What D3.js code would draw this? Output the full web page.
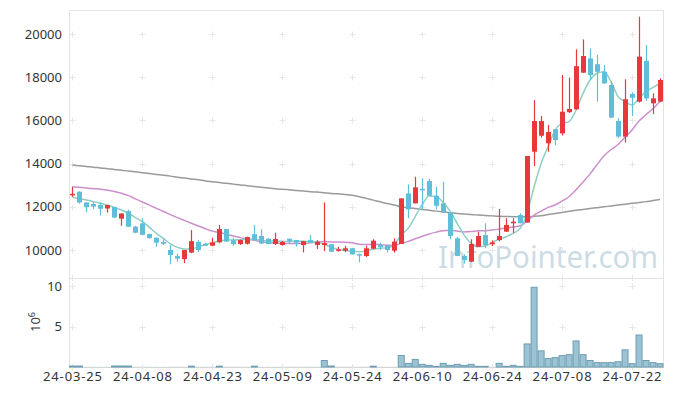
<!DOCTYPE html>
<html>
<head>
<meta charset="utf-8">
<script src="https://cdn.jsdelivr.net/npm/d3@7"></script>
<style>
  html, body { margin: 0; padding: 0; background: #fff; }
  svg { display: block; font-family: "Noto Sans", "Open Sans", sans-serif; }
</style>
</head>
<body>
<svg id="chart" width="673" height="396"></svg>
<script>
// ---------- DATA ----------
const dates = [
  "24-03-25","24-03-26","24-03-27","24-03-28","24-03-29",
  "24-04-01","24-04-02","24-04-03","24-04-04","24-04-05",
  "24-04-08","24-04-09","24-04-11","24-04-12","24-04-15",
  "24-04-16","24-04-17","24-04-18","24-04-19","24-04-22",
  "24-04-23","24-04-24","24-04-25","24-04-26","24-04-29",
  "24-04-30","24-05-02","24-05-03","24-05-07","24-05-08",
  "24-05-09","24-05-10","24-05-13","24-05-14","24-05-16",
  "24-05-17","24-05-20","24-05-21","24-05-22","24-05-23",
  "24-05-24","24-05-27","24-05-28","24-05-29","24-05-30",
  "24-05-31","24-06-03","24-06-04","24-06-05","24-06-07",
  "24-06-10","24-06-11","24-06-12","24-06-13","24-06-14",
  "24-06-17","24-06-18","24-06-19","24-06-20","24-06-21",
  "24-06-24","24-06-25","24-06-26","24-06-27","24-06-28",
  "24-07-01","24-07-02","24-07-03","24-07-04","24-07-05",
  "24-07-08","24-07-09","24-07-10","24-07-11","24-07-12",
  "24-07-15","24-07-16","24-07-17","24-07-18","24-07-19",
  "24-07-22","24-07-23","24-07-24","24-07-25","24-07-26"
];
const open = [
  12560,12700,12200,12130,12080, 11920,11990,11450,11800,11080,
  11230,10740,10570,10370,10000, 9720,9580,9880,10370,10290,
  10200,10360,10970,10450,10280, 10290,10730,10650,10520,10280,
  10230,10520,10460,10230,10460, 10230,10230,10270,9970,9970,
  10080,9810,9720,10060,10230, 10190,9970,10280,12620,12160,
  12830,13190,12510,12160,11730, 10540,9720,9460,10150,10690,
  10270,10460,10850,11240,11620, 11270,14550,15290,14940,15590,
  15400,16380,16510,18210,18870, 18600,18250,17640,15970,15250,
  17220,16870,18760,16790,16870
];
const high = [
  12930,12720,12210,12230,12200, 12100,12000,11700,11870,11120,
  11470,10760,10580,10500,10230, 9830,10000,10920,10460,10320,
  10570,11160,10970,10570,10480, 10620,11150,10960,10550,10800,
  10420,10530,10470,10420,10690, 10460,12200,10280,10150,10190,
  10100,9830,10200,10500,10340, 10250,10540,12390,13040,13390,
  13320,13300,12930,13160,11730, 10600,9800,10500,10850,11240,
  10450,11900,11470,11470,11700, 14350,16940,16200,15790,15600,
  18100,17980,19290,19750,19330, 19030,18560,17820,16100,17900,
  17300,20800,19490,17250,17950
];
const low = [
  12460,12150,11750,11900,11600, 11730,11490,11120,11060,10780,
  10680,10530,10150,10230,9340, 9460,9390,9850,9900,10180,
  10180,10310,10380,10200,10230, 10250,10440,10280,10260,10230,
  10200,10300,10150,9890,10330, 10050,9950,9900,9920,9900,
  9780,9430,9680,10040,10000, 9880,9880,10280,11470,12160,
  11850,12510,11880,11730,10500, 9720,9380,9440,10150,10080,
  10180,10400,10840,10800,11230, 11270,13890,15200,14550,14860,
  15300,16350,16500,18200,17870, 16870,17700,16100,15200,14970,
  16200,16830,16900,16300,16850
];
const close = [
  12600,12200,11980,12010,11910, 12080,11500,11690,11080,10800,
  10700,10550,10340,10290,9770, 9600,10000,10410,10000,10200,
  10350,10970,10390,10270,10460, 10600,10460,10300,10280,10510,
  10370,10420,10340,10410,10340, 10380,10320,9920,10030,10080,
  9800,9740,10080,10430,10130, 10000,10390,12390,11880,12900,
  12780,12510,12050,11730,10650, 9720,9540,10280,10650,10230,
  10350,10650,11160,11310,11240, 14350,15970,15970,15460,15090,
  16400,16530,18510,18980,18100, 18250,17710,16130,15250,16980,
  17050,18950,17020,17020,17870
];
// volume in millions of shares
const volume = [
  0.12,0.12,0.02,0.02,0.02, 0.02,0.12,0.12,0.12,0.02,
  0.02,0.02,0.02,0.02,0.02, 0.02,0.02,0.1,0.02,0.02,
  0.02,0.1,0.02,0.02,0.02, 0.02,0.1,0.02,0.02,0.02,
  0.02,0.02,0.02,0.02,0.02, 0.02,0.8,0.12,0.02,0.02,
  0.02,0.02,0.02,0.1,0.02, 0.02,0.02,1.43,0.45,0.94,
  0.33,0.2,0.08,0.45,0.2, 0.33,0.2,0.33,0.08,0.08,
  0.02,0.45,0.08,0.2,0.08, 2.85,9.85,2.0,1.04,1.16,
  1.4,1.52,3.22,1.52,0.8, 0.54,0.54,0.54,0.65,2.12,
  0.41,3.95,0.8,0.54,0.41
];
const ma5 = [
  12440,12380,12310,12240,12160, 12070,11975,11850,11700,11500,
  11310,11050,10770,10540,10280, 10120,10050,10050,10150,10245,
  10340,10415,10460,10460,10480, 10495,10500,10440,10420,10410,
  10400,10390,10410,10400,10380, 10370,10250,10130,10030,9980,
  9940,9920,9960,10040,10080, 10100,10250,10700,11000,11550,
  12100,12500,12480,12200,11800, 11235,10690,10310,10150,10185,
  10355,10495,10615,10770,11000, 11700,12930,14010,14780,15550,
  15860,15940,16480,17250,17870, 18180,18250,17790,17100,16870,
  16710,17020,17330,17530,17710
];
const ma20 = [
  12930,12900,12870,12840,12810, 12770,12710,12630,12520,12370,
  12220,12080,11930,11780,11640, 11500,11370,11240,11110,10986,
  10873,10812,10732,10645,10573, 10499,10447,10377,10337,10323,
  10306,10300,10300,10306,10334, 10373,10389,10365,10366,10360,
  10333,10271,10256,10264,10247, 10217,10214,10318,10398,10518,
  10638,10743,10828,10894,10910, 10877,10838,10856,10887,10894,
  10922,10967,11021,11065,11121, 11338,11617,11796,11975,12085,
  12266,12467,12790,13152,13525, 13951,14360,14652,14882,15220,
  15555,15970,16263,16548,16880
];
const ma120 = [
  13930,13900,13870,13830,13800, 13760,13730,13690,13660,13620,
  13580,13540,13500,13460,13420, 13370,13330,13290,13250,13200,
  13160,13120,13090,13050,13010, 12980,12940,12900,12870,12840,
  12810,12790,12760,12730,12700, 12680,12650,12620,12600,12570,
  12540,12470,12390,12310,12230, 12150,12080,12000,11960,11920,
  11880,11840,11800,11760,11720, 11690,11670,11640,11620,11600,
  11580,11560,11550,11540,11540, 11540,11560,11590,11640,11690,
  11740,11790,11840,11880,11920, 11960,12000,12040,12080,12120,
  12160,12200,12240,12290,12340
];
const priceTicks = [10000, 12000, 14000, 16000, 18000, 20000];
const volTicks = [5, 10];
const dateTicks = ["24-03-25","24-04-08","24-04-23","24-05-09","24-05-24","24-06-10","24-06-24","24-07-08","24-07-22"];
const watermark = "InfoPointer.com";

// ---------- LAYOUT ----------
const L = 69, R = 663.5, PT = 10, PB = 278, VB = 367;
const svg = d3.select("#chart");

const x = d3.scaleBand().domain(dates).range([L, R]).padding(0);
const bw = x.bandwidth();
const cx = d => x(d) + bw / 2;
const y = d3.scaleLinear().domain([8704, 21111]).range([PB, PT]);
const yv = d3.scaleLinear().domain([0, 11]).range([VB, PB]);

const frame = "#e3e3e3";
const gridC = "#e6e6e6";
const textC = "#333";

// watermark (behind)
svg.append("text")
  .attr("x", 438).attr("y", 268)
  .attr("font-size", 30)
  .attr("textLength", 220).attr("lengthAdjust", "spacingAndGlyphs")
  .attr("fill", "#c3d6e1").attr("fill-opacity", 0.85)
  .text(watermark);

// frame lines
const fr = svg.append("g").attr("stroke", frame).attr("stroke-width", 1).attr("shape-rendering", "crispEdges");
fr.append("line").attr("x1", L).attr("x2", R).attr("y1", PT).attr("y2", PT);
fr.append("line").attr("x1", L).attr("x2", L).attr("y1", PT).attr("y2", VB);
fr.append("line").attr("x1", R).attr("x2", R).attr("y1", PT).attr("y2", VB);
fr.append("line").attr("x1", L).attr("x2", R).attr("y1", PB).attr("y2", PB);
fr.append("line").attr("x1", L).attr("x2", R).attr("y1", VB).attr("y2", VB).attr("stroke", "#d6d6d6");

// grid crosses
const gx = dateTicks.map(d => Math.round(cx(d)) + 0.5);
const cross = svg.append("g").attr("stroke", gridC).attr("stroke-width", 1);
function plus(px, py) {
  cross.append("line").attr("x1", px - 3).attr("x2", px + 3).attr("y1", py).attr("y2", py);
  cross.append("line").attr("x1", px).attr("x2", px).attr("y1", py - 3).attr("y2", py + 3);
}
gx.forEach(px => {
  priceTicks.forEach(v => plus(px, Math.round(y(v)) + 0.5));
  volTicks.forEach(v => plus(px, Math.round(yv(v)) + 0.5));
  cross.append("line").attr("x1", px).attr("x2", px).attr("y1", PB - 3).attr("y2", PB + 3);
  cross.append("line").attr("x1", px).attr("x2", px).attr("y1", VB - 3).attr("y2", VB + 3);
});
priceTicks.forEach(v => {
  cross.append("line").attr("x1", L).attr("x2", L + 4).attr("y1", Math.round(y(v)) + 0.5).attr("y2", Math.round(y(v)) + 0.5);
});

// price axis labels
const yAxis = d3.axisLeft(y).tickValues(priceTicks).tickSize(0).tickPadding(7).tickFormat(d3.format("d"));
const ya = svg.append("g").attr("transform", `translate(${L},0)`).call(yAxis);
ya.select(".domain").remove();
ya.selectAll("text").attr("font-size", 13).attr("fill", textC).attr("font-family", "Noto Sans, sans-serif");

// volume axis labels
const vAxis = d3.axisLeft(yv).tickValues(volTicks).tickSize(0).tickPadding(7).tickFormat(d3.format("d"));
const va = svg.append("g").attr("transform", `translate(${L},0)`).call(vAxis);
va.select(".domain").remove();
va.selectAll("text").attr("font-size", 13).attr("fill", textC).attr("font-family", "Noto Sans, sans-serif");

// 10^6 label
const unit = svg.append("text")
  .attr("transform", "translate(40,322) rotate(-90)")
  .attr("text-anchor", "middle").attr("font-size", 13).attr("fill", textC);
unit.append("tspan").text("10");
unit.append("tspan").attr("dy", -5).attr("font-size", 9).text("6");

// x axis labels
const xAxis = d3.axisBottom(x).tickValues(dateTicks).tickSize(0).tickPadding(5);
const xa = svg.append("g").attr("transform", `translate(0,${VB})`).call(xAxis);
xa.select(".domain").remove();
xa.selectAll("text").attr("font-size", 13).attr("fill", textC)
  .attr("font-family", "Noto Sans, sans-serif")
  .attr("textLength", 59).attr("lengthAdjust", "spacing");

// volume bars
const rows = dates.map((d, i) => ({ d, o: open[i], h: high[i], l: low[i], c: close[i], v: volume[i] }));
svg.append("g").selectAll("rect").data(rows).join("rect")
  .attr("x", r => x(r.d) + 0.5)
  .attr("width", bw - 1)
  .attr("y", r => yv(r.v))
  .attr("height", r => yv(0) - yv(r.v))
  .attr("fill", "#9cc3d3")
  .attr("stroke", r => (yv(0) - yv(r.v)) >= 0.6 ? "#6c9db2" : "none")
  .attr("stroke-width", 1);

// moving averages
const lineGen = arr => d3.line().x((v, i) => cx(dates[i])).y(v => y(v)).curve(d3.curveMonotoneX)(arr);
svg.append("path").attr("d", lineGen(ma120)).attr("fill", "none").attr("stroke", "#9a9a9a").attr("stroke-width", 1.5);
svg.append("path").attr("d", lineGen(ma20)).attr("fill", "none").attr("stroke", "#cc8fcb").attr("stroke-width", 1.5);
svg.append("path").attr("d", lineGen(ma5)).attr("fill", "none").attr("stroke", "#8ccfc5").attr("stroke-width", 1.5);

// candles
const up = "#e8383c", down = "#5fbfd9";
const cg = svg.append("g").selectAll("g").data(rows).join("g");
cg.append("line")
  .attr("x1", r => Math.round(cx(r.d)) + 0.5).attr("x2", r => Math.round(cx(r.d)) + 0.5)
  .attr("y1", r => y(r.h)).attr("y2", r => y(r.l))
  .attr("stroke", r => r.c >= r.o ? up : down).attr("stroke-width", 1.2);
cg.append("rect")
  .attr("x", r => Math.round(cx(r.d)) + 0.5 - 2.5)
  .attr("width", 5)
  .attr("y", r => y(Math.max(r.o, r.c)))
  .attr("height", r => Math.max(1.5, Math.abs(y(r.o) - y(r.c))))
  .attr("fill", r => r.c >= r.o ? up : down);
</script>
</body>
</html>
